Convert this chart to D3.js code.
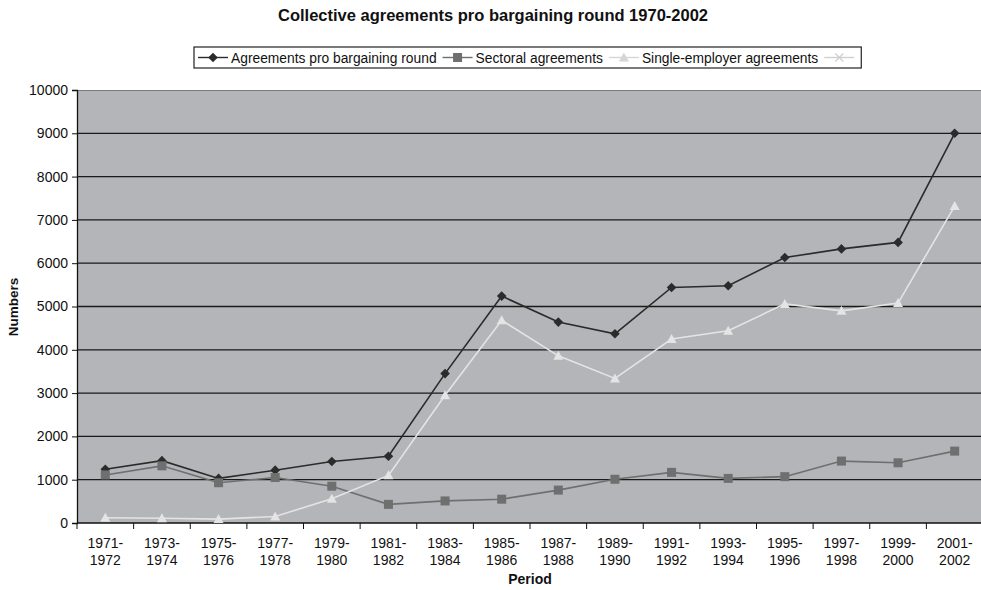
<!DOCTYPE html>
<html>
<head>
<meta charset="utf-8">
<script src="https://d3js.org/d3.v7.min.js"></script>
<style>
  body { margin: 0; background: #fff; }
  text { font-family: "Liberation Sans", Arial, sans-serif; }
</style>
</head>
<body>
<div id="chart"></div>
<script>
// chart data
var periods = ["1971-1972","1973-1974","1975-1976","1977-1978","1979-1980","1981-1982","1983-1984","1985-1986",
               "1987-1988","1989-1990","1991-1992","1993-1994","1995-1996","1997-1998","1999-2000","2001-2002"];
var roundAgreements  = [1240,1440,1030,1220,1420,1540,3450,5240,4640,4370,5440,5480,6130,6330,6480,9000];
var sectoral         = [1110,1320,930,1050,850,430,510,550,760,1010,1170,1030,1070,1430,1390,1660];
var singleEmployer   = [120,110,90,150,560,1100,2950,4680,3860,3340,4250,4440,5060,4900,5080,7320];
var otherAgreements  = [];   // listed in legend, no values shown
var yTicks = [0,1000,2000,3000,4000,5000,6000,7000,8000,9000,10000];

var series = [
  {name: "Agreements pro bargaining round", values: roundAgreements, color: "#2b2b2b", marker: "diamond"},
  {name: "Sectoral agreements", values: sectoral, color: "#6f6f6f", marker: "square"},
  {name: "Single-employer agreements", values: singleEmployer, color: "#e4e4e4", marker: "triangle"},
  {name: "", values: otherAgreements, color: "#cfcfcf", marker: "cross"}
];

var W = 981, H = 590;
var plotL = 77, plotR = 983, plotT = 90, plotB = 523;

var svg = d3.select("#chart").append("svg").attr("width", W).attr("height", H);

var x = d3.scaleBand().domain(periods).range([plotL, plotR]);
var y = d3.scaleLinear().domain([0, 10000]).range([plotB, plotT]);

// plot background
svg.append("rect").attr("x", plotL).attr("y", plotT)
  .attr("width", plotR - plotL).attr("height", plotB - plotT)
  .attr("fill", "#b4b5b9");
svg.append("line").attr("x1", plotL).attr("x2", plotR).attr("y1", plotT + 0.5).attr("y2", plotT + 0.5)
  .attr("stroke", "#7a7a7a").attr("stroke-width", 1);

// gridlines
svg.selectAll(".grid").data(yTicks.filter(function(d){ return d > 0 && d < 10000; }))
  .enter().append("line")
  .attr("x1", plotL).attr("x2", plotR)
  .attr("y1", function(d){ return y(d); }).attr("y2", function(d){ return y(d); })
  .attr("stroke", "#1a1a1a").attr("stroke-width", 1.3);

// y axis
var yAxis = d3.axisLeft(y).tickValues(yTicks).tickSize(5).tickPadding(4).tickFormat(d3.format("d"));
var gy = svg.append("g").attr("transform", "translate(" + plotL + ",0)").call(yAxis);
gy.select(".domain").attr("stroke", "#111").attr("stroke-width", 1.3);
gy.selectAll(".tick line").attr("stroke", "#111");
gy.selectAll("text").attr("font-size", 14).attr("fill", "#111").style("font-family", "Liberation Sans, Arial");

// x axis
svg.append("line").attr("x1", plotL).attr("x2", plotR).attr("y1", plotB).attr("y2", plotB)
  .attr("stroke", "#111").attr("stroke-width", 1.3);
svg.selectAll(".xtick").data(periods).enter().append("line")
  .attr("x1", function(d){ return x(d); }).attr("x2", function(d){ return x(d); })
  .attr("y1", plotB).attr("y2", plotB + 6).attr("stroke", "#111");

var xl = svg.selectAll(".xlab").data(periods).enter().append("text")
  .attr("text-anchor", "middle").attr("font-size", 14).attr("fill", "#111");
xl.append("tspan").attr("x", function(d){ return x(d) + x.bandwidth() / 2; }).attr("y", 548)
  .text(function(d){ return d.split("-")[0] + "-"; });
xl.append("tspan").attr("x", function(d){ return x(d) + x.bandwidth() / 2; }).attr("y", 565)
  .text(function(d){ return d.split("-")[1]; });

// axis titles
svg.append("text").attr("x", 530).attr("y", 584).attr("text-anchor", "middle")
  .attr("font-size", 14).attr("font-weight", "bold").attr("fill", "#111").text("Period");
svg.append("text").attr("transform", "translate(18,307) rotate(-90)").attr("text-anchor", "middle")
  .attr("font-size", 13.5).attr("font-weight", "bold").attr("fill", "#111").text("Numbers");

// title
svg.append("text").attr("x", 493).attr("y", 21).attr("text-anchor", "middle")
  .attr("font-size", 16.5).attr("font-weight", "bold").attr("fill", "#111")
  .text("Collective agreements pro bargaining round 1970-2002");

function drawMarker(g, type, cx, cy, color) {
  if (type === "diamond") {
    g.append("path").attr("d", "M" + cx + "," + (cy - 4.8) + "L" + (cx + 4.8) + "," + cy + "L" + cx + "," + (cy + 4.8) + "L" + (cx - 4.8) + "," + cy + "Z")
      .attr("fill", color);
  } else if (type === "square") {
    g.append("rect").attr("x", cx - 4.5).attr("y", cy - 4.5).attr("width", 9).attr("height", 9).attr("fill", color);
  } else if (type === "triangle") {
    g.append("path").attr("d", "M" + cx + "," + (cy - 5) + "L" + (cx + 5) + "," + (cy + 4) + "L" + (cx - 5) + "," + (cy + 4) + "Z")
      .attr("fill", color);
  } else if (type === "cross") {
    g.append("path").attr("d", "M" + (cx - 4) + "," + (cy - 4) + "L" + (cx + 4) + "," + (cy + 4) + "M" + (cx - 4) + "," + (cy + 4) + "L" + (cx + 4) + "," + (cy - 4))
      .attr("stroke", color).attr("stroke-width", 1.2).attr("fill", "none");
  }
}

// series lines + markers
var line = d3.line()
  .x(function(d, i){ return x(periods[i]) + x.bandwidth() / 2; })
  .y(function(d){ return y(d); });

series.forEach(function(s) {
  if (!s.values.length) return;
  var g = svg.append("g");
  g.append("path").datum(s.values).attr("d", line)
    .attr("fill", "none").attr("stroke", s.color).attr("stroke-width", 1.6);
  s.values.forEach(function(v, i) {
    drawMarker(g, s.marker, x(periods[i]) + x.bandwidth() / 2, y(v), s.color);
  });
});

// legend
var lg = svg.append("g");
var lx = 198, ly = 57.5;
var box = lg.append("rect").attr("y", 47).attr("height", 21).attr("fill", "#fff")
  .attr("stroke", "#222").attr("stroke-width", 1.2);
series.forEach(function(s) {
  var c = s.color === "#e4e4e4" ? "#d6d6d6" : s.color;
  lg.append("line").attr("x1", lx).attr("x2", lx + 30).attr("y1", ly).attr("y2", ly)
    .attr("stroke", c).attr("stroke-width", 1.4);
  drawMarker(lg, s.marker, lx + 15, ly, c);
  lx += 33;
  if (s.name) {
    var t = lg.append("text").attr("x", lx).attr("y", ly + 5).attr("font-size", 13.8)
      .attr("fill", "#111").text(s.name);
    lx += t.node().getComputedTextLength() + 6;
  }
});
box.attr("x", 194).attr("width", lx - 194 + 4);
</script>
</body>
</html>
